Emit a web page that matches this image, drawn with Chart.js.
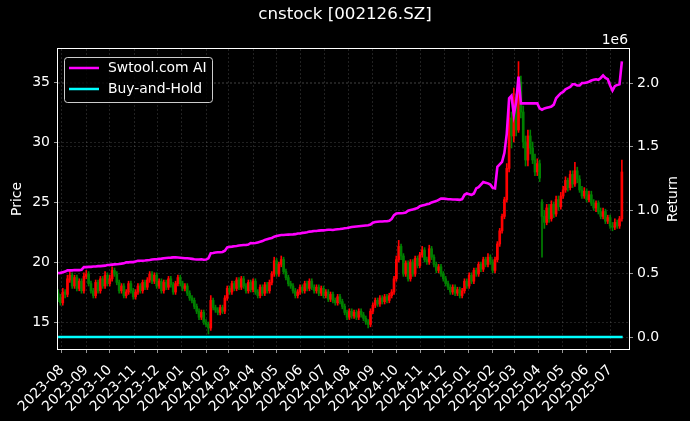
<!DOCTYPE html>
<html>
<head>
<meta charset="utf-8">
<script src="https://cdn.jsdelivr.net/npm/chart.js@4.4.1/dist/chart.umd.min.js"></script>
<style>
  body { margin: 0; background: #000; }
</style>
</head>
<body>
<canvas id="chart" width="690" height="421"></canvas>
<script>
// candles are sampled every 3 calendar days starting here
const startDate = '2023-07-27'
const stepDays = 3

const openPx = [
  17.4,17.0,16.6,17.5,17.3,18.5,18.9,18.0,18.7,17.8,
  18.4,17.6,18.8,19.0,18.2,17.6,17.2,18.3,17.6,18.6,
  18.0,18.9,18.2,18.6,19.3,19.0,18.3,17.6,18.0,17.2,
  17.5,18.2,17.6,17.1,17.5,18.0,17.6,18.3,17.9,18.5,
  19.0,18.4,18.9,18.0,18.4,17.6,18.3,17.9,18.6,18.1,
  17.5,18.2,18.7,18.2,17.8,18.0,17.4,17.0,16.8,16.3,
  15.9,15.4,15.8,15.0,14.8,14.5,16.8,16.2,16.0,15.8,
  16.2,15.9,17.0,17.8,17.5,18.2,17.8,18.5,17.9,18.6,
  18.0,17.6,18.3,17.7,18.4,17.5,17.2,17.9,17.4,18.1,
  17.6,18.3,19.0,20.1,19.0,19.8,20.2,19.2,18.7,18.2,
  18.0,17.6,17.2,17.5,17.9,17.6,18.2,17.8,18.4,17.9,
  17.6,17.9,17.4,17.8,17.2,17.5,16.9,17.3,16.8,16.6,
  17.1,16.7,16.3,15.8,15.4,15.9,15.5,15.8,15.4,15.9,
  15.6,15.3,15.0,14.8,15.9,16.4,16.8,16.5,17.0,16.7,
  17.1,16.8,17.2,17.5,18.6,20.2,21.3,20.5,19.0,19.9,
  18.6,20.0,19.0,20.3,19.7,20.6,21.0,20.2,20.0,21.1,
  20.4,19.8,19.3,19.6,19.0,18.6,18.2,17.9,17.5,17.9,
  17.4,17.7,17.2,17.6,18.4,18.0,18.9,18.4,19.3,19.0,
  19.8,19.4,20.2,19.8,20.4,20.0,19.3,20.2,21.5,22.6,
  23.8,25.2,27.8,32.0,30.5,33.5,31.0,35.0,32.5,30.0,
  28.5,30.5,29.5,28.5,27.5,28.2,25.0,23.8,23.3,24.5,
  23.6,24.8,24.0,25.2,24.6,25.5,26.0,26.8,26.2,27.3,
  26.5,27.6,26.9,26.0,25.5,25.9,25.2,25.6,24.9,24.5,
  24.9,24.2,23.8,24.2,23.4,23.7,23.0,22.9,23.3,23.0,
  23.6
]
const highPx = [
  17.7,17.3,17.8,17.7,18.9,19.2,19.1,18.9,18.9,18.6,
  18.6,19.1,19.3,19.2,18.4,17.8,18.5,18.5,18.8,18.8,
  19.2,19.1,18.9,19.6,19.5,19.2,18.5,18.2,18.2,17.7,
  18.4,18.4,17.8,17.7,18.2,18.2,18.5,18.5,18.7,19.2,
  19.2,19.1,19.1,18.6,18.6,18.5,18.5,18.8,18.8,18.3,
  18.4,18.9,18.9,18.4,18.2,18.2,17.6,17.2,17.0,16.5,
  16.1,16.0,16.0,15.2,15.0,17.2,17.0,16.4,16.2,16.4,
  16.4,17.2,18.0,18.0,18.4,18.4,18.7,18.7,18.8,18.8,
  18.2,18.5,18.5,18.6,18.6,17.7,18.1,18.1,18.3,18.3,
  18.5,19.2,20.4,20.3,20.0,20.5,20.4,19.4,18.9,18.4,
  18.2,17.8,17.7,18.1,18.1,18.4,18.4,18.6,18.6,18.1,
  18.1,18.1,18.0,18.0,17.7,17.7,17.5,17.5,17.0,17.3,
  17.3,16.9,16.5,16.0,16.1,16.1,16.0,16.0,16.1,16.1,
  15.8,15.5,15.2,16.1,16.6,17.0,17.0,17.2,17.2,17.3,
  17.3,17.4,17.7,18.8,20.5,21.8,21.5,20.7,20.1,20.1,
  20.2,20.2,20.5,20.5,20.8,21.3,21.2,20.4,21.4,21.3,
  20.6,20.0,19.8,19.8,19.2,18.8,18.4,18.1,18.1,18.1,
  17.9,17.9,17.8,18.6,18.6,19.1,19.1,19.5,19.5,20.0,
  20.0,20.4,20.4,20.7,20.6,20.2,20.4,21.7,22.8,24.0,
  25.4,28.2,33.0,32.5,34.5,34.0,36.7,35.5,33.0,30.5,
  31.0,31.0,30.0,29.0,28.6,28.5,25.2,24.3,24.8,24.8,
  25.1,25.0,25.5,25.5,25.8,26.3,27.1,27.0,27.6,27.6,
  28.3,27.9,27.2,26.3,26.2,26.1,25.9,25.9,25.2,25.1,
  25.1,24.5,24.5,24.4,23.9,23.9,23.3,23.6,23.5,23.8,
  28.5
]
const lowPx = [
  16.7,16.4,16.4,17.0,17.1,18.3,17.8,17.8,17.6,17.6,
  17.4,17.4,18.6,18.0,17.4,17.0,17.0,17.4,17.4,17.8,
  17.8,18.0,18.0,18.4,18.8,18.1,17.4,17.4,17.0,17.0,
  17.3,17.4,16.9,16.9,17.3,17.4,17.4,17.7,17.7,18.3,
  18.2,18.2,17.8,17.8,17.4,17.4,17.7,17.7,17.9,17.3,
  17.3,18.0,18.0,17.6,17.6,17.2,16.8,16.6,16.1,15.7,
  15.2,15.2,14.8,14.6,14.0,14.3,16.0,15.8,15.6,15.6,
  15.7,15.7,16.8,17.3,17.3,17.6,17.6,17.7,17.7,17.8,
  17.4,17.4,17.5,17.5,17.3,17.0,17.0,17.2,17.2,17.4,
  17.4,18.1,18.8,18.8,18.8,19.6,19.0,18.5,18.0,17.8,
  17.4,17.0,17.0,17.3,17.4,17.4,17.6,17.6,17.7,17.4,
  17.4,17.2,17.2,17.0,17.0,16.7,16.7,16.6,16.4,16.4,
  16.5,16.1,15.6,15.2,15.2,15.3,15.3,15.2,15.2,15.4,
  15.1,14.8,14.5,14.6,15.7,16.2,16.3,16.3,16.5,16.5,
  16.6,16.6,17.0,17.3,18.4,20.0,20.2,18.8,18.8,18.4,
  18.4,18.8,18.8,19.5,19.5,20.4,20.0,19.8,19.8,20.2,
  19.6,19.1,19.1,18.8,18.4,18.0,17.7,17.3,17.3,17.2,
  17.2,17.0,17.0,17.4,17.8,17.8,18.2,18.2,18.8,18.8,
  19.2,19.2,19.6,19.6,19.8,19.1,19.1,20.0,21.3,22.4,
  23.6,25.0,27.5,29.5,30.0,30.5,30.8,32.0,29.5,28.0,
  28.0,29.0,28.2,27.2,27.2,26.7,20.4,22.8,23.1,23.3,
  23.4,23.7,23.8,24.3,24.4,25.3,25.8,25.9,26.0,26.2,
  26.3,26.6,25.8,25.3,25.3,25.0,25.0,24.7,24.3,24.2,
  24.0,23.6,23.6,23.2,23.2,22.8,22.6,22.7,22.8,22.8,
  23.4
]
const closePx = [
  17.0,16.6,17.5,17.3,18.6,18.9,18.0,18.7,17.8,18.4,
  17.6,18.8,19.0,18.2,17.6,17.2,18.3,17.6,18.6,18.0,
  18.9,18.2,18.6,19.3,19.0,18.3,17.6,18.0,17.2,17.5,
  18.2,17.6,17.1,17.5,18.0,17.6,18.3,17.9,18.5,19.0,
  18.4,18.9,18.0,18.4,17.6,18.3,17.9,18.6,18.1,17.5,
  18.2,18.7,18.2,17.8,18.0,17.4,17.0,16.8,16.3,15.9,
  15.4,15.8,15.0,14.8,14.5,16.8,16.2,16.0,15.8,16.2,
  15.9,17.0,17.8,17.5,18.2,17.8,18.5,17.9,18.6,18.0,
  17.6,18.3,17.7,18.4,17.5,17.2,17.9,17.4,18.1,17.6,
  18.3,19.0,20.1,19.0,19.8,20.2,19.2,18.7,18.2,18.0,
  17.6,17.2,17.5,17.9,17.6,18.2,17.8,18.4,17.9,17.6,
  17.9,17.4,17.8,17.2,17.5,16.9,17.3,16.8,16.6,17.1,
  16.7,16.3,15.8,15.4,15.9,15.5,15.8,15.4,15.9,15.6,
  15.3,15.0,14.8,15.9,16.4,16.8,16.5,17.0,16.7,17.1,
  16.8,17.2,17.5,18.6,20.2,21.3,20.5,19.0,19.9,18.6,
  20.0,19.0,20.3,19.7,20.6,21.0,20.2,20.0,21.1,20.4,
  19.8,19.3,19.6,19.0,18.6,18.2,17.9,17.5,17.9,17.4,
  17.7,17.2,17.6,18.4,18.0,18.9,18.4,19.3,19.0,19.8,
  19.4,20.2,19.8,20.4,20.0,19.3,20.2,21.5,22.6,23.8,
  25.2,27.8,32.0,30.5,33.5,31.0,35.0,32.5,30.0,28.5,
  30.5,29.5,28.5,27.5,28.2,27.0,23.8,23.3,24.5,23.6,
  24.8,24.0,25.2,24.6,25.5,26.0,26.8,26.2,27.3,26.5,
  27.6,26.9,26.0,25.5,25.9,25.2,25.6,24.9,24.5,24.9,
  24.2,23.8,24.2,23.4,23.7,23.0,22.9,23.3,23.0,23.6,
  27.5
]
// strategy equity, in millions (same dates as the candles)
const strategyM = [
  0.503,0.505,0.51,0.515,0.525,0.525,0.525,0.527,0.527,0.527,
  0.53,0.55,0.55,0.552,0.552,0.555,0.555,0.558,0.558,0.56,
  0.562,0.567,0.568,0.57,0.572,0.573,0.575,0.578,0.58,0.588,
  0.588,0.59,0.59,0.595,0.6,0.6,0.6,0.602,0.605,0.607,
  0.61,0.612,0.612,0.615,0.617,0.62,0.622,0.624,0.625,0.627,
  0.628,0.626,0.624,0.622,0.62,0.62,0.618,0.615,0.612,0.61,
  0.61,0.612,0.608,0.61,0.62,0.66,0.662,0.665,0.667,0.668,
  0.67,0.68,0.705,0.71,0.712,0.715,0.717,0.72,0.722,0.724,
  0.725,0.728,0.74,0.738,0.74,0.745,0.75,0.755,0.765,0.77,
  0.775,0.78,0.79,0.795,0.8,0.803,0.803,0.805,0.806,0.807,
  0.808,0.81,0.815,0.815,0.82,0.822,0.825,0.83,0.832,0.835,
  0.835,0.838,0.84,0.84,0.842,0.845,0.845,0.843,0.846,0.848,
  0.85,0.853,0.856,0.858,0.862,0.866,0.868,0.87,0.872,0.874,
  0.876,0.878,0.88,0.885,0.9,0.905,0.908,0.91,0.91,0.912,
  0.912,0.915,0.93,0.96,0.972,0.975,0.975,0.976,0.98,0.995,
  1.0,1.005,1.01,1.015,1.03,1.035,1.04,1.045,1.05,1.06,
  1.065,1.07,1.08,1.09,1.09,1.088,1.085,1.085,1.083,1.083,
  1.082,1.08,1.085,1.12,1.13,1.125,1.12,1.13,1.17,1.18,
  1.2,1.22,1.215,1.21,1.2,1.175,1.17,1.34,1.36,1.38,
  1.45,1.6,1.88,1.9,1.75,1.85,2.05,1.84,1.84,1.84,
  1.84,1.84,1.84,1.84,1.84,1.80,1.79,1.80,1.805,1.81,
  1.815,1.83,1.88,1.9,1.92,1.93,1.95,1.96,1.97,1.99,
  1.99,1.98,1.98,2.0,2.0,2.005,2.01,2.02,2.025,2.03,
  2.025,2.04,2.06,2.04,2.03,1.98,1.94,1.975,1.985,1.99,
  2.17
]
// buy-and-hold (ratio, looks flat at 0 on the 1e6 axis)
const holdDates = ['2023-07-27','2023-09-01','2023-11-01','2024-01-02','2024-03-01','2024-05-06',
  '2024-07-01','2024-09-02','2024-11-01','2025-01-02','2025-03-03','2025-05-06','2025-07-17']
const holdValues = [1.0, 1.1, 1.04, 1.05, 1.0, 1.1, 1.04, 0.93, 1.2, 1.05, 1.8, 1.5, 1.6]

const monthTicks = ['2023-08','2023-09','2023-10','2023-11','2023-12','2024-01','2024-02','2024-03',
  '2024-04','2024-05','2024-06','2024-07','2024-08','2024-09','2024-10','2024-11','2024-12',
  '2025-01','2025-02','2025-03','2025-04','2025-05','2025-06','2025-07']
const priceTicks = [15, 20, 25, 30, 35]
const returnTicks = [0, 500000, 1000000, 1500000, 2000000]

const day0 = Date.parse('2023-08-01')
const toDay = s => (Date.parse(s) - day0) / 86400000
const candleX = closePx.map((c, i) => toDay(startDate) + i * stepDays)

const upColor = '#ff0000'
const downColor = '#008000'
const candleColor = ctx => closePx[ctx.dataIndex] >= openPx[ctx.dataIndex] ? upColor : downColor

const gridColor = 'rgba(170,170,170,0.32)'
const font = { family: 'DejaVu Sans', size: 14 }
Chart.defaults.color = '#ffffff'
Chart.defaults.font.family = 'DejaVu Sans'

const decorations = {
  id: 'decorations',
  afterDraw(chart) {
    const { ctx, chartArea: a } = chart
    ctx.save()
    ctx.strokeStyle = '#ffffff'
    ctx.lineWidth = 1
    ctx.strokeRect(a.left - 0.5, a.top - 0.5, a.right - a.left + 1, a.bottom - a.top + 1)

    ctx.fillStyle = '#ffffff'
    ctx.font = '16.7px "DejaVu Sans"'
    ctx.textAlign = 'center'
    ctx.textBaseline = 'middle'
    ctx.fillText('cnstock [002126.SZ]', 345, 15)

    ctx.font = '13.9px "DejaVu Sans"'
    ctx.textAlign = 'right'
    ctx.textBaseline = 'alphabetic'
    ctx.fillText('1e6', a.right - 1, a.top - 5)

    ctx.textAlign = 'center'
    ctx.textBaseline = 'middle'
    const midY = (a.top + a.bottom) / 2
    ctx.save(); ctx.translate(17, midY); ctx.rotate(-Math.PI / 2); ctx.fillText('Price', 0, 0); ctx.restore()
    ctx.save(); ctx.translate(673, midY); ctx.rotate(-Math.PI / 2); ctx.fillText('Return', 0, 0); ctx.restore()

    // legend
    const lx = 64, ly = 57, lw = 148, lh = 45
    ctx.beginPath()
    ctx.roundRect(lx + 0.5, ly + 0.5, lw, lh, 3)
    ctx.fillStyle = 'rgba(0,0,0,0.8)'
    ctx.fill()
    ctx.strokeStyle = 'rgba(255,255,255,0.8)'
    ctx.lineWidth = 1
    ctx.stroke()
    const items = [chart.data.datasets[0], chart.data.datasets[1]]
    items.forEach((ds, k) => {
      const y = 68 + k * 21
      ctx.strokeStyle = ds.borderColor
      ctx.lineWidth = 2.5
      ctx.beginPath(); ctx.moveTo(69, y); ctx.lineTo(99, y); ctx.stroke()
      ctx.fillStyle = '#ffffff'
      ctx.textAlign = 'left'
      ctx.fillText(ds.label, 108, y)
    })
    ctx.restore()
  }
}

new Chart(document.getElementById('chart'), {
  type: 'bar',
  data: {
    datasets: [
      {
        type: 'line', label: 'Swtool.com AI', yAxisID: 'y1',
        data: strategyM.map((v, i) => ({ x: candleX[i], y: v * 1e6 })),
        borderColor: '#ff00ff', borderWidth: 2.6, pointRadius: 0, tension: 0
      },
      {
        type: 'line', label: 'Buy-and-Hold', yAxisID: 'y1',
        data: holdValues.map((v, i) => ({ x: toDay(holdDates[i]), y: v })),
        borderColor: '#00ffff', borderWidth: 2.6, pointRadius: 0, tension: 0
      },
      {
        label: 'body', yAxisID: 'y', grouped: false, barThickness: 2, borderWidth: 0,
        data: closePx.map((c, i) => ({ x: candleX[i], y: [openPx[i], c] })),
        backgroundColor: candleColor
      },
      {
        label: 'wick', yAxisID: 'y', grouped: false, barThickness: 1, borderWidth: 0,
        data: closePx.map((c, i) => ({ x: candleX[i], y: [lowPx[i], highPx[i]] })),
        backgroundColor: candleColor
      }
    ]
  },
  options: {
    responsive: false,
    animation: false,
    events: [],
    layout: { padding: { top: 49, left: 0, right: 0, bottom: 0 } },
    plugins: { legend: { display: false }, tooltip: { enabled: false } },
    scales: {
      x: {
        type: 'linear', offset: false,
        min: -5.1, max: 724.1,
        afterBuildTicks: scale => { scale.ticks = monthTicks.map(m => ({ value: toDay(m) })) },
        afterFit: scale => { scale.height = 72 },
        ticks: {
          autoSkip: false, minRotation: 45, maxRotation: 45, padding: 9, color: '#ffffff', font,
          callback: (v, i) => monthTicks[i]
        },
        grid: { color: gridColor, lineWidth: 0.6, offset: false, tickColor: '#ffffff', tickLength: 4, tickBorderDash: [] },
        border: { display: false, dash: [2, 2] }
      },
      y: {
        position: 'left', min: 12.75, max: 37.75,
        afterBuildTicks: scale => { scale.ticks = priceTicks.map(v => ({ value: v })) },
        afterFit: scale => { scale.width = 58 },
        ticks: { padding: 4, color: '#ffffff', font },
        grid: { color: gridColor, lineWidth: 0.6, tickColor: '#ffffff', tickLength: 4, tickBorderDash: [] },
        border: { display: false, dash: [2, 2] }
      },
      y1: {
        position: 'right', min: -94500, max: 2268000,
        afterBuildTicks: scale => { scale.ticks = returnTicks.map(v => ({ value: v })) },
        afterFit: scale => { scale.width = 61 },
        ticks: { padding: 4, color: '#ffffff', font, callback: v => (v / 1e6).toFixed(1) },
        grid: { color: gridColor, lineWidth: 0.6, tickColor: '#ffffff', tickLength: 4, tickBorderDash: [] },
        border: { display: false, dash: [2, 2] }
      }
    }
  },
  plugins: [decorations]
})
</script>
</body>
</html>
